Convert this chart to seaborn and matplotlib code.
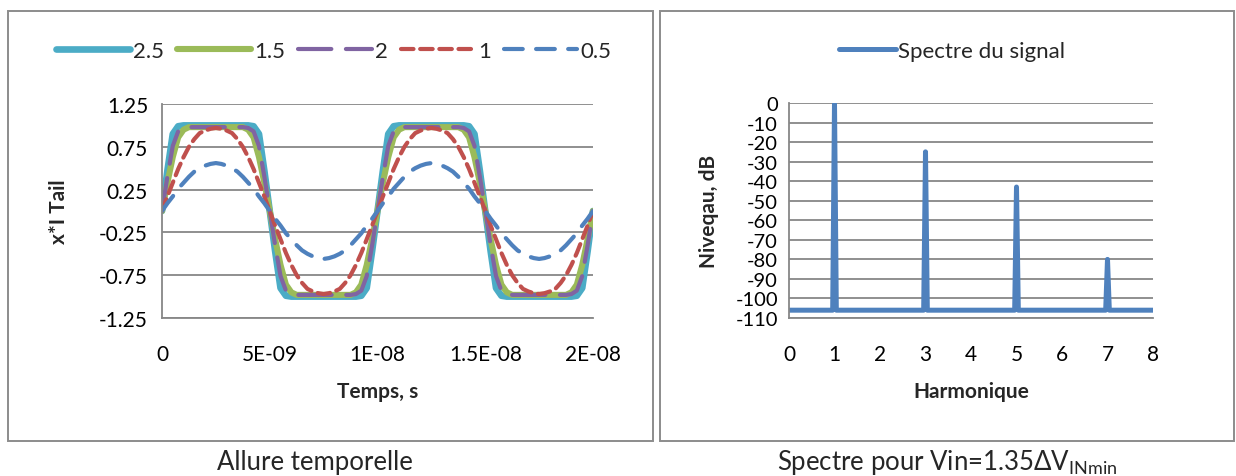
import numpy as np
import pandas as pd
import matplotlib
matplotlib.use("Agg")
import matplotlib.pyplot as plt
import seaborn as sns
from matplotlib.patches import Rectangle
from matplotlib.lines import Line2D

# ---------------- data ----------------
series_names = ["2.5", "1.5", "2", "1", "0.5"]
time_step_ns = 0.25
n_points = 81
time_s = np.arange(n_points) * time_step_ns * 1e-9

val_2_5 = [
    0, .47, .90, .99, 1, 1, 1, 1, 1, 1, 1, 1, 1, 1, 1, 1, 1, .99, .90, .47,
    0, -.47, -.90, -.99, -1, -1, -1, -1, -1, -1, -1, -1, -1, -1, -1, -1, -1, -.99, -.90, -.47,
    0, .47, .90, .99, 1, 1, 1, 1, 1, 1, 1, 1, 1, 1, 1, 1, 1, .99, .90, .47,
    0, -.47, -.90, -.99, -1, -1, -1, -1, -1, -1, -1, -1, -1, -1, -1, -1, -1, -.99, -.90, -.47,
    0]
val_1_5 = [
    0, .33, .63, .86, .95, .98, .98, .98, .98, .98, .98, .98, .98, .98, .98, .98, .95, .86, .63, .33,
    0, -.33, -.63, -.86, -.95, -.98, -.98, -.98, -.98, -.98, -.98, -.98, -.98, -.98, -.98, -.98, -.95, -.86, -.63, -.33,
    0, .33, .63, .86, .95, .98, .98, .98, .98, .98, .98, .98, .98, .98, .98, .98, .95, .86, .63, .33,
    0, -.33, -.63, -.86, -.95, -.98, -.98, -.98, -.98, -.98, -.98, -.98, -.98, -.98, -.98, -.98, -.95, -.86, -.63, -.33,
    0]
val_2 = [
    0, .40, .76, .93, .97, .98, .98, .98, .98, .98, .98, .98, .98, .98, .98, .98, .97, .93, .76, .40,
    0, -.40, -.76, -.93, -.97, -.98, -.98, -.98, -.98, -.98, -.98, -.98, -.98, -.98, -.98, -.98, -.97, -.93, -.76, -.40,
    0, .40, .76, .93, .97, .98, .98, .98, .98, .98, .98, .98, .98, .98, .98, .98, .97, .93, .76, .40,
    0, -.40, -.76, -.93, -.97, -.98, -.98, -.98, -.98, -.98, -.98, -.98, -.98, -.98, -.98, -.98, -.97, -.93, -.76, -.40,
    0]
val_1 = [
    0, .17, .33, .49, .63, .75, .84, .91, .94, .96, .97, .96, .94, .91, .84, .75, .63, .49, .33, .17,
    0, -.17, -.33, -.49, -.63, -.75, -.84, -.91, -.94, -.96, -.97, -.96, -.94, -.91, -.84, -.75, -.63, -.49, -.33, -.17,
    0, .17, .33, .49, .63, .75, .84, .91, .94, .96, .97, .96, .94, .91, .84, .75, .63, .49, .33, .17,
    0, -.17, -.33, -.49, -.63, -.75, -.84, -.91, -.94, -.96, -.97, -.96, -.94, -.91, -.84, -.75, -.63, -.49, -.33, -.17,
    0]
val_0_5 = [
    0, .09, .17, .26, .33, .40, .46, .50, .53, .55, .56, .55, .53, .50, .46, .40, .33, .26, .17, .09,
    0, -.09, -.17, -.26, -.33, -.40, -.46, -.50, -.53, -.55, -.56, -.55, -.53, -.50, -.46, -.40, -.33, -.26, -.17, -.09,
    0, .09, .17, .26, .33, .40, .46, .50, .53, .55, .56, .55, .53, .50, .46, .40, .33, .26, .17, .09,
    0, -.09, -.17, -.26, -.33, -.40, -.46, -.50, -.53, -.55, -.56, -.55, -.53, -.50, -.46, -.40, -.33, -.26, -.17, -.09,
    0]

x_ticks_left = [0, 5e-9, 1e-8, 1.5e-8, 2e-8]
x_ticklabels_left = ["0", "5E-09", "1E-08", "1.5E-08", "2E-08"]
y_ticks_left = [1.25, 0.75, 0.25, -0.25, -0.75, -1.25]
y_ticklabels_left = ["1.25", "0.75", "0.25", "-0.25", "-0.75", "-1.25"]

harmonic = [0, 0.96, 1.0, 1.04, 2.96, 3.0, 3.04, 4.96, 5.0, 5.04, 6.96, 7.0, 7.04, 8]
level_db = [-106, -106, 0, -106, -106, -25, -106, -106, -43, -106, -106, -80, -106, -106]
y_ticks_right = [0, -10, -20, -30, -40, -50, -60, -70, -80, -90, -100, -110]
x_ticks_right = [0, 1, 2, 3, 4, 5, 6, 7, 8]

# ---------------- style ----------------
sns.set_theme(style="white")
plt.rcParams['font.family'] = ['Lato', 'DejaVu Sans']
plt.rcParams['mathtext.fontset'] = 'custom'
plt.rcParams['mathtext.rm'] = 'Lato'
plt.rcParams['mathtext.it'] = 'Lato'

GRID = "#878787"
W, H = 1236, 477
fig = plt.figure(figsize=(W / 100, H / 100), dpi=100)

def fx(px):
    return px / W

def fy(py):
    return 1 - py / H

# panel frames
fig.patches.append(Rectangle((fx(8), fy(442)), fx(653 - 8), (442 - 12) / H,
                             transform=fig.transFigure, fill=False,
                             edgecolor="#8c8c8c", lw=1.4))
fig.patches.append(Rectangle((fx(660), fy(442)), fx(1234 - 660), (442 - 12) / H,
                             transform=fig.transFigure, fill=False,
                             edgecolor="#8c8c8c", lw=1.4))

FS = 15
FS_LEG = 16

def style_axes(ax):
    for s in ["top", "right"]:
        ax.spines[s].set_visible(False)
    for s in ["left", "bottom"]:
        ax.spines[s].set_color(GRID)
        ax.spines[s].set_linewidth(1.3)
    ax.tick_params(axis="both", direction="out", length=6, width=1.3,
                   color=GRID, labelsize=FS, labelcolor="black", pad=4)
    ax.yaxis.grid(True, color=GRID, lw=1.3)
    ax.xaxis.grid(False)
    ax.set_axisbelow(True)

# ---------------- left chart ----------------
axL = fig.add_axes([fx(162), fy(319), fx(593 - 162), (319 - 105) / H])
df = pd.DataFrame({"t": np.tile(time_s, 5),
                   "v": np.concatenate([val_2_5, val_1_5, val_2, val_1, val_0_5]),
                   "s": np.repeat(series_names, n_points)})
styles = {
    "2.5": dict(color="#4BACC6", lw=4.8, ls="-"),
    "1.5": dict(color="#9BBB59", lw=4.4, ls="-"),
    "2": dict(color="#8064A2", lw=3.0, ls=(0, (8, 3.5))),
    "1": dict(color="#C0504D", lw=3.0, ls=(0, (3, 1.6))),
    "0.5": dict(color="#4F81BD", lw=3.0, ls=(0, (4.5, 3.2))),
}
for name in series_names:
    st = styles[name]
    sns.lineplot(data=df[df.s == name], x="t", y="v", ax=axL, color=st["color"],
                 lw=st["lw"], linestyle=st["ls"], label=name, legend=False,
                 solid_capstyle="round", dash_capstyle="round")
axL.set_xlim(0, 2e-8)
axL.set_ylim(-1.25, 1.25)
axL.set_xticks(x_ticks_left)
axL.set_xticklabels(x_ticklabels_left)
axL.set_yticks(y_ticks_left)
axL.set_yticklabels(y_ticklabels_left)
style_axes(axL)
axL.tick_params(axis="x", pad=13)
axL.set_xlabel("Temps, s", fontsize=FS, fontweight="bold", labelpad=12)
axL.set_ylabel("x*I Tail", fontsize=FS, fontweight="bold", labelpad=22)

handles = [Line2D([0], [0], color=styles[n]["color"], lw=styles[n]["lw"],
                  ls=styles[n]["ls"], solid_capstyle="round",
                  dash_capstyle="round") for n in series_names]
fig.legend(handles, series_names, loc="center", bbox_to_anchor=(fx(334), fy(52)),
           ncol=5, frameon=False, fontsize=FS_LEG, handlelength=3.3,
           handletextpad=0.15, columnspacing=0.6)

# ---------------- right chart ----------------
axR = fig.add_axes([fx(789), fy(319), fx(1153 - 789), (319 - 104) / H])
dfR = pd.DataFrame({"h": harmonic, "db": level_db})
sns.lineplot(data=dfR, x="h", y="db", ax=axR, color="#4F81BD", lw=3.6,
             legend=False, solid_capstyle="round", solid_joinstyle="round",
             sort=False)
axR.set_xlim(0, 8)
axR.set_ylim(-110, 0)
axR.set_xticks(x_ticks_right)
axR.set_yticks(y_ticks_right)
axR.set_yticklabels([str(v) for v in y_ticks_right])
style_axes(axR)
axR.tick_params(axis="x", pad=13)
axR.tick_params(axis="y", pad=2)
for lab in axR.get_yticklabels():
    lab.set_fontsize(14.5)
axR.set_xlabel("Harmonique", fontsize=FS, fontweight="bold", labelpad=12)
axR.set_ylabel("Niveqau, dB", fontsize=FS, fontweight="bold", labelpad=12)

hR = [Line2D([0], [0], color="#4F81BD", lw=3.6, solid_capstyle="round")]
fig.legend(hR, ["Spectre du signal"], loc="center", bbox_to_anchor=(fx(952), fy(52)),
           frameon=False, fontsize=FS_LEG, handlelength=2.6, handletextpad=0.1)

# ---------------- captions ----------------
fig.text(fx(315), fy(463), "Allure temporelle", ha="center", va="center",
         fontsize=18.5)
fig.text(fx(947), fy(463), r"Spectre pour Vin=1.35ΔV$_{\mathrm{INmin}}$",
         ha="center", va="center", fontsize=18.5)

fig.savefig("out.png", dpi=100)
